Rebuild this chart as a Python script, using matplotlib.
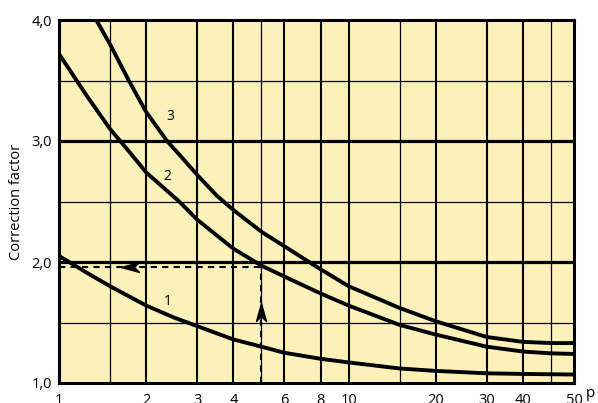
import matplotlib
matplotlib.use("Agg")
import matplotlib.pyplot as plt
from matplotlib.path import Path

plt.rcParams['font.family'] = ['Open Sans', 'DejaVu Sans']

# curve values (p, correction factor)
p1 = [1, 1.25, 1.5, 2, 2.5, 3, 4, 5, 6, 8, 10, 15, 20, 30, 40, 60]
k1 = [2.05, 1.91, 1.80, 1.64, 1.54, 1.47, 1.36, 1.30, 1.25, 1.20, 1.17, 1.12, 1.10, 1.08, 1.075, 1.07]

p2 = [1, 1.25, 1.5, 1.75, 2, 2.6, 3, 4, 5, 6, 8, 10, 15, 20, 30, 40, 50, 60]
k2 = [3.72, 3.37, 3.10, 2.91, 2.74, 2.50, 2.35, 2.11, 1.97, 1.88, 1.74, 1.64, 1.48, 1.40, 1.30, 1.26, 1.245, 1.24]

p3 = [1.33, 1.5, 1.75, 2, 2.36, 2.62, 3, 3.5, 4, 5, 6, 8, 10, 15, 20, 30, 40, 50, 60]
k3 = [4.02, 3.80, 3.49, 3.24, 3.0, 2.88, 2.72, 2.55, 2.43, 2.25, 2.13, 1.94, 1.80, 1.62, 1.51, 1.38, 1.34, 1.33, 1.33]

# example reading: p = 5 on curve 2
p_read = 5
k_read = 1.96

xticks = [1, 2, 3, 4, 6, 8, 10, 20, 30, 40, 60]
xlabels = ['1', '2', '3', '4', '6', '8', '10', '20', '30', '40', '50']
yticks = [1, 2, 3, 4]
ylabels = ['1,0', '2,0', '3,0', '4,0']

grid_thick_x = [2, 3, 4, 6, 8, 10, 20, 30, 40]
grid_thin_x = [1.5, 5, 15, 50]
grid_thick_y = [2, 3]
grid_thin_y = [1.5, 2.5, 3.5]

# notched arrowheads
arrow_up = Path([(0, 1), (0.55, -1), (0, -0.45), (-0.55, -1), (0, 1)])
arrow_left = Path([(-1, 0), (1, 0.55), (0.45, 0), (1, -0.55), (-1, 0)])

fig = plt.figure(figsize=(5.98, 4.03), dpi=100)
ax = fig.add_axes([59/598, 20/403, 515/598, 363/403])
ax.set_facecolor('#fcf1b9')
ax.set_xscale('log')
ax.set_xlim(1, 60)
ax.set_ylim(1, 4)

# grid
for x in grid_thick_x:
    ax.axvline(x, color='black', lw=1.5, zorder=1)
for x in grid_thin_x:
    ax.axvline(x, color='black', lw=0.9, zorder=1)
for y in grid_thick_y:
    ax.axhline(y, color='black', lw=2.3, zorder=1)
for y in grid_thin_y:
    ax.axhline(y, color='black', lw=0.9, zorder=1)

# curves
for p, k in [(p1, k1), (p2, k2), (p3, k3)]:
    ax.plot(p, k, color='black', lw=2.8, solid_joinstyle='round', zorder=3)

ax.text(2.38, 1.67, '1', fontsize=10, ha='center', va='center', zorder=4)
ax.text(2.36, 2.71, '2', fontsize=10, ha='center', va='center', zorder=4)
ax.text(2.42, 3.20, '3', fontsize=10, ha='center', va='center', zorder=4)

# dashed reading lines with arrows
ax.plot([p_read, p_read], [1, k_read], color='black', lw=1.5, ls=(0, (3, 2.5)), zorder=2)
ax.plot([1, p_read], [k_read, k_read], color='black', lw=1.5, ls=(0, (3, 2.5)), zorder=2)
ax.plot(p_read, 1.59, marker=arrow_up, ms=13, color='black', zorder=4)
ax.plot(1.76, k_read, marker=arrow_left, ms=13, color='black', zorder=4)

ax.set_xticks(xticks)
ax.set_xticklabels(xlabels)
ax.xaxis.set_minor_locator(matplotlib.ticker.NullLocator())
ax.set_yticks(yticks)
ax.set_yticklabels(ylabels)
ax.tick_params(length=0, labelsize=10.5)
ax.tick_params(axis='x', pad=7)
ax.tick_params(axis='y', pad=5)
for s in ax.spines.values():
    s.set_linewidth(2.2)
    s.set_zorder(5)

ax.set_ylabel('Correction factor', fontsize=10.5)
ax.yaxis.set_label_coords(-0.068, 0.5)
ax.text(1.031, -0.028, 'p', transform=ax.transAxes, fontsize=11, ha='center', va='center')

fig.savefig('out.png', dpi=100)
